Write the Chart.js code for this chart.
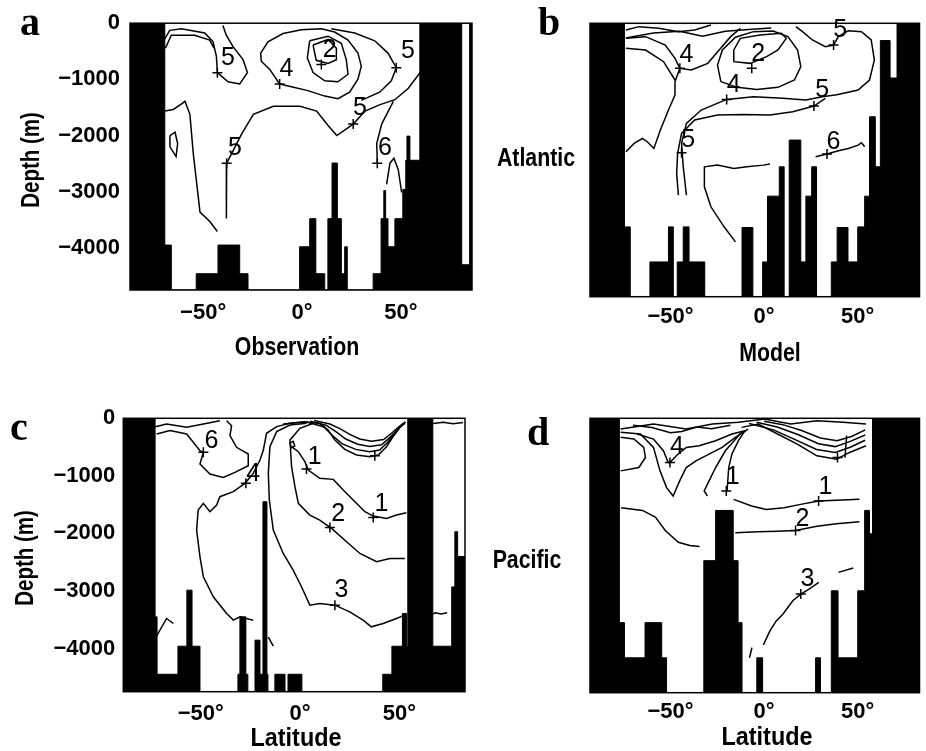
<!DOCTYPE html>
<html>
<head>
<meta charset="utf-8">
<script src="https://cdn.jsdelivr.net/npm/chart.js@4.4.1/dist/chart.umd.min.js"></script>
<style>
body { margin: 0; background: #fff; width: 926px; height: 751px; position: relative; overflow: hidden; }
canvas { position: absolute; }
.tag { position: absolute; font-family: 'Liberation Serif', serif; font-weight: bold; font-size: 40px; line-height: 1; }
.ttl { position: absolute; font-family: 'Liberation Sans', Arial, sans-serif; font-weight: bold; font-size: 26px; line-height: 1; white-space: nowrap; transform: translate(-50%, -50%) scaleX(0.82); }
.ttl.vert { font-size: 25px; transform: translate(-50%, -50%) rotate(-90deg) scaleX(0.82); }
</style>
</head>
<body>
<canvas id="chartA" width="480" height="372" style="left:0;top:0"></canvas>
<canvas id="chartB" width="446" height="372" style="left:480px;top:0"></canvas>
<canvas id="chartC" width="480" height="371" style="left:0;top:380px"></canvas>
<canvas id="chartD" width="446" height="371" style="left:480px;top:380px"></canvas>
<div class="tag" style="left:20px;top:2px">a</div>
<div class="tag" style="left:538px;top:2px">b</div>
<div class="tag" style="left:10px;top:407px">c</div>
<div class="tag" style="left:527px;top:412px">d</div>
<div class="ttl vert" style="left:30px;top:160px">Depth (m)</div>
<div class="ttl vert" style="left:24px;top:558px">Depth (m)</div>
<div class="ttl" style="left:297px;top:346px">Observation</div>
<div class="ttl" style="left:770px;top:352px">Model</div>
<div class="ttl" style="left:296px;top:737px;transform:translate(-50%,-50%) scaleX(0.9)">Latitude</div>
<div class="ttl" style="left:767px;top:736px;transform:translate(-50%,-50%) scaleX(0.9)">Latitude</div>
<div class="ttl" style="left:536px;top:157px">Atlantic</div>
<div class="ttl" style="left:527px;top:559px">Pacific</div>
<script>
// Tick values
const latTicks = [-50, 0, 50];
const depthTicks = [0, -1000, -2000, -3000, -4000];
const depthMin = -4750;

// ---------- a: Atlantic, observation ----------
const bathyLatA = [-87, -69.4, -66.1, -53.5, -42.5, -31.5, -27.3, -1.2, 1.4, 3.9, 7, 11.5, 13.1, 15.2, 17.9, 19.9, 21.6, 22.9, 36, 40, 41.4, 42.3, 43.5, 47, 51, 52.5, 53.1, 54.6, 59.6, 80.8, 84.8, 86];
const bathyDepthA = [0, -3950, -4750, -4460, -3950, -4460, -4750, -3980, -3980, -3480, -4460, -4750, -3480, -2490, -3480, -4460, -3980, -4750, -4460, -3480, -2980, -3480, -3980, -3480, -2960, -2440, -2010, -2440, 0, -4300, 0, 0];
const a5Left = [[-69.8,-301],[-66.9,-127],[-61,-97],[-49.2,-174],[-45,-330],[-43.3,-591],[-42.8,-880],[-37.4,-1043],[-31.5,-1083],[-27.6,-880],[-29.8,-649],[-34.9,-417],[-38.3,-214],[-40,-40]];
const a5LeftInner = [[-69.1,-445],[-66.1,-214],[-54.3,-214],[-46.7,-301],[-44.5,-445]];
const a4 = [[-11.3,-1083],[-16.3,-823],[-20.6,-678],[-20.9,-532],[-17.2,-330],[-9.6,-184],[-0.3,-115],[9.8,-97],[16.5,-157],[23.3,-301],[28.3,-532],[30,-765],[28.3,-996],[24.1,-1228],[18.2,-1344],[11.5,-1298],[3,-1200],[-5.4,-1130],[-11.3,-1083]];
const a3 = [[3.9,-313],[13.2,-231],[19.9,-358],[22.4,-649],[23.3,-909],[18.2,-1043],[11.5,-1026],[5.6,-880],[2.7,-619],[3.9,-313]];
const a2 = [[5.6,-388],[13.2,-289],[17.4,-445],[17.4,-649],[13.2,-718],[7.2,-661],[5.6,-388]];
const a5TopRight = [[14.8,-97],[26.7,-174],[36.8,-313],[43.5,-532],[47.7,-793],[45.2,-1026],[39.3,-1228],[30,-1374]];
const a5Main = [[60,-28],[61,-405],[60,-870],[53.8,-1158],[47,-1362],[39.5,-1449],[31.9,-1565],[25.9,-1796],[17.6,-2000],[13.3,-1826],[7.4,-1565],[-1,-1478],[-14.5,-1478],[-24.6,-1622],[-30.5,-1970],[-34.7,-2261],[-38.1,-2492],[-38.4,-2956],[-38.1,-3478]];
const a5Deep = [[-69.3,-1565],[-65.1,-1536],[-60.9,-1437],[-59.2,-1391],[-56.7,-1622],[-55,-2318],[-51.6,-3362],[-46.5,-3536],[-42.8,-3709]];
const aLoop = [[-66.8,-2000],[-64.2,-1941],[-62.9,-2144],[-63.7,-2376],[-66.8,-2202],[-66.8,-2000]];
const a6 = [[46.2,-1391],[40.3,-1796],[37.8,-2144],[38.1,-2492]];
const a6b = [[42.8,-2869],[44.5,-2492],[46.5,-2405],[48.7,-2608],[50.4,-3014]];
const crossesA = [[-42.8,-880],[-11.3,-1083],[9.8,-736],[47.7,-793],[25.9,-1796],[-38.1,-2492],[38.1,-2492]];
const labelsA = [['5',-37.4,-619],['4',-7.9,-823],['2',14,-475],['5',53.6,-504],['5',29.3,-1506],['5',-33.9,-2231],['6',42,-2231]];

// ---------- b: Atlantic, model ----------
const bathyLatB = [-93, -74.6, -71.5, -61, -51.1, -48.5, -46.4, -43.2, -40.1, -31.7, -11.8, -6, -0.8, 1.8, 8.1, 10.7, 13.4, 19.6, 22.3, 25.4, 28, 35.9, 39, 44.8, 50, 53.7, 56.3, 59.4, 62.1, 67.3, 71, 83];
const bathyDepthB = [0, -3537, -4750, -4146, -3537, -4750, -4146, -3537, -4146, -4750, -3548, -4750, -4146, -3003, -2493, -4750, -2029, -4146, -3003, -2493, -4750, -4146, -3548, -4146, -3537, -3003, -1624, -2493, -300, -951, 0, 0];
const b4Left = [[-73.8,-261],[-63.3,-232],[-52.8,-377],[-47.6,-609],[-45,-783],[-38.9,-812],[-30.1,-696],[-24,-464],[-17.9,-232],[-12.7,-87]];
const bLeft2 = [[-73.8,-435],[-63.3,-464],[-53.7,-667],[-47.6,-985]];
const bY = [[-45,-783],[-47.6,-1014],[-47.6,-1246],[-51.1,-1507],[-55.4,-1855],[-58.9,-2174],[-62.4,-2058],[-65,-2000],[-69.4,-2087],[-73.8,-2232]];
const b3 = [[-23.1,-1014],[-24.9,-725],[-22.3,-464],[-15.3,-243],[-5.7,-145],[4.8,-133],[12.7,-232],[17.9,-464],[19.6,-754],[16.2,-985],[7.4,-1113],[-3.9,-1148],[-14.4,-1113],[-23.1,-1014]];
const b2 = [[-16.2,-464],[-12.7,-261],[-2.2,-203],[9.2,-174],[11.8,-261],[7.4,-464],[1.3,-580],[-7.4,-696],[-16.2,-667],[-16.2,-464]];
const b4Tube = [[-41.5,-2985],[-43.2,-2493],[-44.1,-2087],[-41.5,-1739],[-33.6,-1507],[-20,-1322],[-5.7,-1275],[10,-1304],[22.3,-1333],[31,-1275],[38.8,-1241],[50.2,-1159],[56.3,-985],[58.9,-638],[57.2,-290],[52,-145],[45,-128],[39.7,-232],[37.1,-377],[32.7,-406],[25.8,-290],[20.5,-145],[17,-58]];
const b5Tube = [[-45.8,-2985],[-46.7,-2609],[-46.2,-2261],[-44.1,-1913],[-37.1,-1681],[-24.9,-1594],[-10.9,-1583],[3.1,-1594],[15.3,-1536],[26.6,-1438],[32.7,-1304]];
const bTop = [[-73.8,-116],[-66.8,-58],[-56.3,-87],[-45.8,-145],[-37.1,-116],[-28.4,-29]];
const bSurf = [[-73.9,-256],[-59.1,-169],[-45.2,-139],[-32.9,-226],[-20.7,-139],[-10.2,-111],[3.8,-82]];
const b6 = [[27.5,-2319],[33.6,-2272],[39.7,-2214],[45,-2174],[50.2,-2116],[52,-2075],[53.7,-2145]];
const bLow = [[-15.3,-3797],[-21.4,-3536],[-28.4,-3188],[-31.9,-2841],[-31.9,-2493],[-24.9,-2464],[-16.2,-2522],[-9.2,-2493],[-0.4,-2464],[3.1,-2446]];
const crossesB = [[-45,-783],[-6.6,-780],[-20,-1322],[26.6,-1438],[-44.1,-2249],[37.1,-377],[33.6,-2272]];
const labelsB = [['4',-41.5,-551],['2',-3.2,-540],['4',-16.2,-1072],['5',31,-1159],['5',-40.6,-2029],['5',40.6,-110],['6',37.1,-2058]];

// ---------- c: Pacific, observation ----------
const bathyLatC = [-89, -73, -72, -61.5, -57, -54.4, -50.4, -31.3, -30.3, -27.3, -26.3, -22.7, -20.2, -18.7, -16.7, -16.2, -12.7, -7.6, -6.1, 0.9, 41.6, 46.2, 51.5, 53.5, 54.2, 66.8, 76.3, 77.9, 79.3, 83];
const bathyDepthC = [0, -3450, -4447, -3960, -2986, -3960, -4750, -4447, -3450, -4447, -4750, -3855, -4447, -1450, -4447, -4750, -4447, -4750, -4447, -4750, -4447, -3960, -3390, -3960, 0, -3960, -2930, -1970, -2400, -2400];
const c6 = [[-72.2,-272],[-65.5,-214],[-57.1,-272],[-50.4,-562],[-48.7,-591],[-50.4,-794],[-45.4,-968],[-38.7,-1026],[-32.8,-939],[-26.1,-823],[-26.1,-620],[-32,-504],[-35.3,-301],[-34.5,-128],[-37,-41]];
const c4 = [[-23.6,-3507],[-30.3,-3449],[-33.6,-3507],[-37,-3391],[-43.7,-3101],[-48.7,-2754],[-50.4,-2406],[-52.1,-1942],[-51.3,-1594],[-48.7,-1478],[-45.4,-1623],[-42,-1507],[-40.4,-1362],[-33.6,-1275],[-27.8,-1130],[-23.6,-957],[-20.2,-725],[-18.5,-551],[-16.9,-261],[-11.8,-145],[-5.1,-87],[3.2,-58]];
const c3 = [[3.3,-87],[-5.1,-116],[-11.8,-232],[-15.2,-493],[-16,-957],[-15.5,-1420],[-13.5,-1942],[-8.5,-2348],[-3.5,-2638],[0.7,-2927],[4.9,-3246],[9.9,-3217],[17.5,-3246],[25,-3362],[31.7,-3507],[35.9,-3623],[41.8,-3565],[48.5,-3478],[52.7,-3420]];
const c2 = [[6.6,-87],[-0.1,-174],[-5.1,-377],[-4.3,-841],[-2.6,-1188],[-0.9,-1478],[4.9,-1681],[9.9,-1768],[15.8,-1913],[23.4,-2145],[30.1,-2348],[38.5,-2493],[45.2,-2435],[52.7,-2435]];
const c1 = [[-4.3,-493],[-0.9,-580],[2.4,-754],[4.1,-899],[9.9,-1043],[16.7,-1061],[21.7,-1246],[26.7,-1420],[32.6,-1623],[36.8,-1699],[43.5,-1739],[48.5,-1681],[53.5,-1641]];
const cLoop = [[-5.2,-430],[-3.5,-400],[-2.7,-480],[-4.3,-510],[-5.2,-430]];
const cNest1 = [[-8.5,-99],[1.6,-64],[9.9,-87],[14.1,-203],[17.5,-377],[22.5,-539],[28.4,-638],[35.1,-667],[39.3,-638],[43.5,-493],[46.8,-319],[50.2,-157],[52.7,-87]];
const cNest2 = [[3,-60],[12,-150],[16,-290],[21,-440],[28,-540],[35,-580],[40,-550],[44,-420],[48,-260],[51,-120],[53,-70]];
const cNest3 = [[5,-50],[13,-120],[18,-230],[23,-360],[29,-450],[35,-490],[41,-460],[45,-340],[49,-200],[52,-90]];
const cNest4 = [[7,-40],[15,-100],[20,-180],[25,-280],[30,-360],[36,-400],[42,-370],[46,-260],[50,-140],[53,-60]];
const cSurf = [[-73.9,-157],[-67.2,-99],[-57.1,-157],[-48.7,-99],[-40.4,-41]];
const cSurfRight = [[67,-90],[72,-70],[77,-95],[82,-75]];
const cLeft = [[-72.5,-3798],[-67.2,-3478],[-63.8,-3565]];
const cRight = [[65.5,-3420],[68,-3380],[71,-3400],[74,-3380]];
const cDash = [[-16,-3800],[-13.5,-3960]];
const crossesC = [[-48.7,-591],[-27.3,-1130],[3.2,-881],[36.8,-1722],[15,-1896],[17.5,-3246],[37.6,-649]];
const labelsC = [['6',-44.6,-388],['4',-23.6,-968],['1',7.4,-678],['1',41,-1490],['2',19.2,-1664],['3',20.8,-2985]];

// ---------- d: Pacific, model ----------
const bathyLatD = [-93, -77.3, -74.6, -63.6, -54.7, -52.1, -32.2, -25.9, -16.5, -13.9, -11.8, -3.9, -0.8, 27.5, 30.1, 35.9, 39.5, 50, 53.7, 56.3, 57.9, 83];
const bathyDepthD = [0, -3537, -4146, -3537, -4146, -4750, -2464, -1595, -2464, -3537, -4750, -4146, -4750, -4146, -4750, -2986, -4146, -2986, -1595, -2000, 0, 0];
const dLoop = [[-76.6,-330],[-69.6,-359],[-64.3,-504],[-63.4,-678],[-66.9,-852],[-76.6,-910]];
const d4Inner = [[-67.8,-272],[-59.1,-359],[-53.8,-562],[-51.2,-765],[-50.3,-765],[-46.9,-649],[-41.6,-504],[-34.7,-475],[-25.9,-388],[-17.2,-272],[-10.2,-214]];
const d4Outer = [[-76.6,-243],[-66.1,-272],[-59.1,-504],[-55.6,-910],[-52.1,-1200],[-48.6,-1345],[-45.1,-1084],[-41.6,-852],[-36.4,-736],[-29.4,-620],[-22.4,-504],[-15.4,-330],[-8.5,-186]];
const d1Upper = [[-10.2,-214],[-13.7,-388],[-17.2,-620],[-18.9,-852],[-19.8,-1258]];
const d1Side = [[-12,-243],[-20.7,-562],[-25.9,-852],[-29.4,-1084],[-32,-1258],[-30.3,-1345]];
const d1 = [[-16.3,-1403],[-6.7,-1519],[1.1,-1577],[10.7,-1548],[19.5,-1490],[29.1,-1432],[38.7,-1420],[50.9,-1403]];
const d2 = [[-15.4,-1983],[-3.2,-1965],[7.2,-1954],[16.8,-1942],[28.2,-1867],[38.7,-1826],[50.9,-1791]];
const dLeft2 = [[-76.4,-1548],[-65,-1594],[-58.1,-1710],[-52.8,-1942],[-45.8,-2145],[-39.7,-2203],[-34.5,-2220]];
const d3 = [[-0.4,-3925],[3.1,-3681],[6.5,-3507],[10,-3391],[15.3,-3159],[19.6,-3043],[24,-2956],[29.2,-2841]];
const d3Dash = [[39.7,-2667],[47.6,-2591]];
const d3Dash2 = [[-6.5,-3971],[-7.8,-4145]];
const dNest1 = [[-12,-157],[-3.2,-99],[7.2,-272],[17.7,-446],[28.2,-649],[38.7,-707],[45.7,-591],[54.4,-475]];
const dNest2 = [[-8,-90],[5,-200],[16,-360],[28,-540],[38,-590],[46,-500],[54,-380]];
const dNest3 = [[-4,-70],[7,-150],[18,-280],[29,-440],[38,-490],[46,-400],[54,-290]];
const dNest4 = [[0,-50],[10,-110],[20,-210],[30,-340],[39,-390],[47,-310],[54,-200]];
const dVert = [[44.1,-300],[43.2,-680]];
const dSurf = [[-76.6,-186],[-59.1,-99],[-41.6,-186],[-27.6,-99],[-13.7,-70],[0.3,-12],[14.2,-99],[28.2,-41],[42.2,-70],[54.4,-99]];
const dSurf2 = [[-70,-120],[-60,-160],[-50,-250],[-44,-230],[-36,-150],[-28,-180],[-18,-120]];
const crossesD = [[-50.3,-765],[-20.2,-1258],[29.1,-1432],[16.8,-1942],[19.6,-3043],[39.2,-678]];
const labelsD = [['4',-46.5,-504],['1',-16.8,-1026],['1',32.7,-1188],['2',20.5,-1739],['3',23.1,-2783]];

const tickFont = { family: "'Liberation Sans', Arial, sans-serif", size: 22, weight: 'bold' };

function toPts(arr) {
    return arr.map(p => ({ x: p[0], y: p[1] }));
}

function latLabel(v) {
    return (v < 0 ? '\u2212' + Math.abs(v) : String(v)) + '\u00b0';
}

function depthLabel(v) {
    return v === 0 ? '0' : '\u2212' + Math.abs(v);
}

// digit labels on the contours and the frame round the plot
const panelDecor = {
    id: 'panelDecor',
    afterDatasetsDraw(chart, args, opts) {
        const ctx = chart.ctx;
        const xs = chart.scales.x, ys = chart.scales.y;
        ctx.save();
        ctx.fillStyle = '#000';
        ctx.font = "25px 'Liberation Sans', Arial, sans-serif";
        ctx.textAlign = 'center';
        ctx.textBaseline = 'middle';
        opts.labels.forEach(l => {
            ctx.fillText(l[0], xs.getPixelForValue(l[1]), ys.getPixelForValue(l[2]));
        });
        const a = chart.chartArea;
        ctx.strokeStyle = '#000';
        ctx.lineWidth = 1.5;
        ctx.strokeRect(a.left, a.top, a.right - a.left, a.bottom - a.top);
        ctx.restore();
    }
};

function makePanel(id, p) {
    const datasets = [];
    // sea floor: black from the depth value down to the bottom of the plot
    datasets.push({
        data: p.bathyLat.map((v, i) => ({ x: v, y: p.bathyDepth[i] })),
        stepped: 'before',
        fill: 'start',
        backgroundColor: '#000',
        borderColor: '#000',
        borderWidth: 1,
        pointRadius: 0,
        order: 1
    });
    p.contours.forEach(c => {
        datasets.push({
            data: toPts(c),
            borderColor: '#000',
            borderWidth: 1.5,
            pointRadius: 0,
            fill: false,
            tension: 0,
            order: 2
        });
    });
    datasets.push({
        data: toPts(p.crosses),
        showLine: false,
        pointStyle: 'cross',
        pointRadius: 5,
        borderColor: '#000',
        borderWidth: 1.5,
        order: 0
    });

    return new Chart(document.getElementById(id), {
        type: 'line',
        data: { datasets: datasets },
        plugins: [panelDecor],
        options: {
            responsive: false,
            animation: false,
            devicePixelRatio: 1,
            layout: { padding: p.pad },
            plugins: {
                legend: { display: false },
                tooltip: { enabled: false },
                panelDecor: { labels: p.labels }
            },
            scales: {
                x: {
                    type: 'linear',
                    min: p.latMin,
                    max: p.latMax,
                    grid: { display: false, drawTicks: false },
                    border: { display: false },
                    afterBuildTicks: s => { s.ticks = latTicks.map(v => ({ value: v })); },
                    afterFit: s => { s.height = p.xHeight; },
                    ticks: {
                        autoSkip: false,
                        maxRotation: 0,
                        padding: p.xTickPad,
                        color: '#000',
                        font: tickFont,
                        callback: v => latLabel(v)
                    }
                },
                y: {
                    type: 'linear',
                    min: depthMin,
                    max: 0,
                    grid: { display: false, drawTicks: false },
                    border: { display: false },
                    afterBuildTicks: s => { s.ticks = depthTicks.map(v => ({ value: v })); },
                    afterFit: s => { s.width = p.yWidth; },
                    ticks: {
                        display: p.showY,
                        padding: p.yTickPad || 0,
                        color: '#000',
                        font: tickFont,
                        callback: v => depthLabel(v)
                    }
                }
            }
        }
    });
}

makePanel('chartA', {
    latMin: -87, latMax: 86,
    bathyLat: bathyLatA, bathyDepth: bathyDepthA,
    contours: [a5Left, a5LeftInner, a4, a3, a2, a5TopRight, a5Main, a5Deep, aLoop, a6, a6b],
    crosses: crossesA, labels: labelsA,
    pad: { top: 16.7, right: 8, left: 0, bottom: 0 },
    yWidth: 130, xHeight: 82, showY: true, yTickPad: 10, xTickPad: 10
});

makePanel('chartB', {
    latMin: -93, latMax: 83,
    bathyLat: bathyLatB, bathyDepth: bathyDepthB,
    contours: [b4Left, bLeft2, bY, b3, b2, b4Tube, b5Tube, bTop, bSurf, b6, bLow],
    crosses: crossesB, labels: labelsB,
    pad: { top: 23.3, right: 0, left: 0, bottom: 0 },
    yWidth: 110, xHeight: 75.3, showY: false, xTickPad: 7
});

makePanel('chartC', {
    latMin: -89, latMax: 83,
    bathyLat: bathyLatC, bathyDepth: bathyDepthC,
    contours: [c6, c4, c3, c2, c1, cLoop, cNest1, cNest2, cNest3, cNest4, cSurf, cSurfRight, cLeft, cRight, cDash],
    crosses: crossesC, labels: labelsC,
    pad: { top: 38.3, right: 15, left: 0, bottom: 0 },
    yWidth: 123.3, xHeight: 59.3, showY: true, yTickPad: 8, xTickPad: 9
});

makePanel('chartD', {
    latMin: -93, latMax: 83,
    bathyLat: bathyLatD, bathyDepth: bathyDepthD,
    contours: [dLoop, d4Inner, d4Outer, d1Upper, d1Side, d1, d2, dLeft2, d3, d3Dash, d3Dash2, dNest1, dNest2, dNest3, dNest4, dVert, dSurf, dSurf2],
    crosses: crossesD, labels: labelsD,
    pad: { top: 38.3, right: 0, left: 0, bottom: 0 },
    yWidth: 110, xHeight: 58.3, showY: false, xTickPad: 6
});
</script>
</body>
</html>
